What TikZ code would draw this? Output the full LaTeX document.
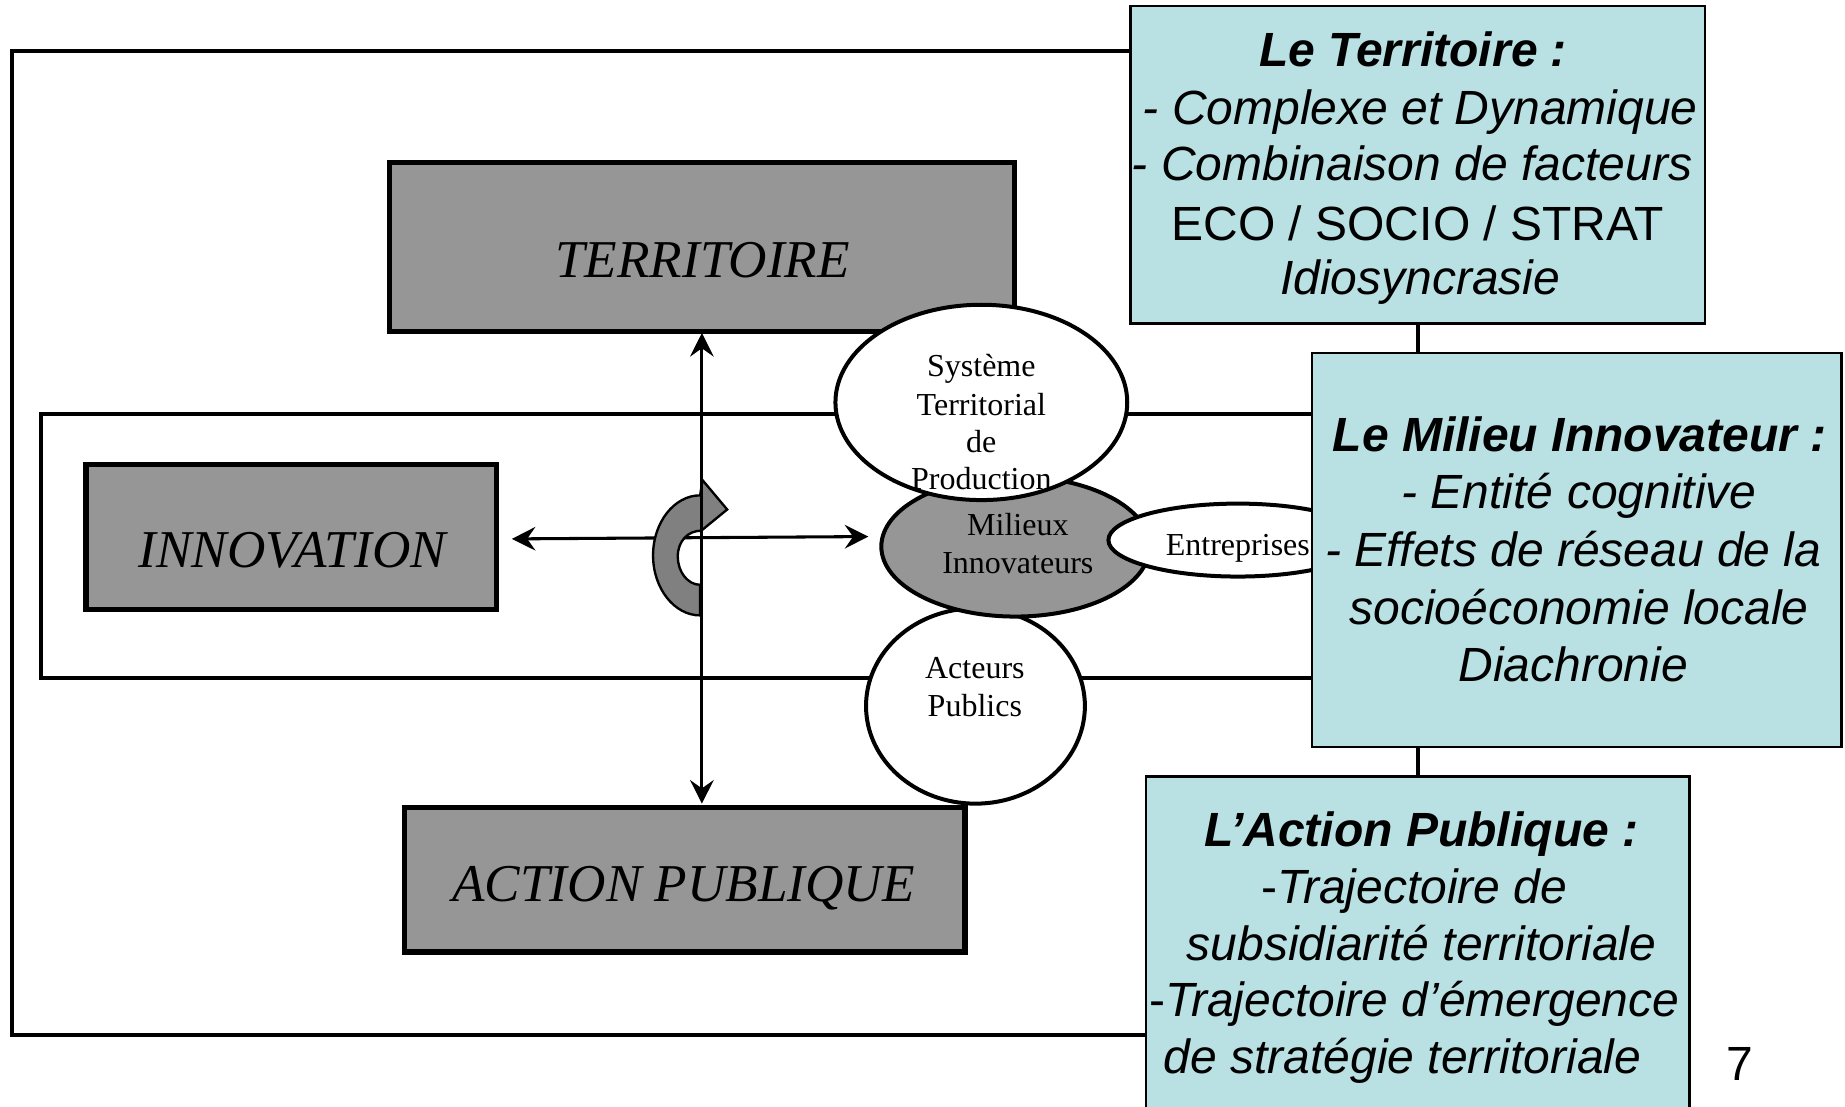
\documentclass[tikz,border=0pt]{standalone}
\usepackage{fontspec}
\setmainfont{Liberation Serif}
\newfontfamily\arialfam{Liberation Sans}
\usetikzlibrary{shapes.geometric,arrows.meta}
\definecolor{boxgray}{HTML}{969696}
\definecolor{arrgray}{HTML}{808080}
\definecolor{bluebox}{HTML}{B9E0E3}
\begin{document}
\begin{tikzpicture}[x=0.5pt,y=-0.5pt,
  frame/.style={line width=1.7pt},
  graybox/.style={draw,line width=2.25pt,fill=boxgray,inner sep=0pt,outer sep=0pt,anchor=north west},
  bluecard/.style={draw,line width=1.1pt,fill=bluebox,inner sep=0pt,outer sep=0pt,anchor=north west},
  oval/.style={ellipse,draw,line width=1.7pt,fill=white,inner sep=0pt,outer sep=0pt},
  bigser/.style={inner sep=0pt,anchor=base,font=\fontsize{22.6}{27}\selectfont\itshape},
  smallser/.style={inner sep=0pt,anchor=base,font=\fontsize{13.6}{16}\selectfont},
  sanstxt/.style={inner sep=0pt,anchor=base,font=\arialfam\fontsize{20.4}{24}\selectfont},
  link/.style={line width=1.3pt,{Stealth[length=10pt,width=10pt,inset=3.5pt]}-{Stealth[length=10pt,width=10pt,inset=3.5pt]}}
]
\useasboundingbox (0,0) rectangle (1568,940);

% frames
\draw[frame] (10,43) rectangle (1205,880);
\draw[frame] (35,352) rectangle (1300,576);

% gray boxes
\node[graybox,minimum width=265.5pt,minimum height=72pt] (terr) at (331,138) {};
\node[graybox,minimum width=174.5pt,minimum height=61.5pt] (innov) at (73,395) {};
\node[graybox,minimum width=238pt,minimum height=61.5pt] (act) at (344,686) {};
\node[bigser] (terrT) at (597,236) {TERRITOIRE};
\node[bigser] (innovT) at (248.5,482) {INNOVATION};
\node[bigser] (actT) at (581,766) {ACTION PUBLIQUE};

% ellipses
\node[oval,minimum width=93pt,minimum height=83pt] (acp) at (829,600) {};
\node[oval,fill=boxgray,minimum width=114pt,minimum height=59.5pt] (mil) at (863,464.5) {};
\node[oval,minimum width=124pt,minimum height=83pt] (sys) at (834,342) {};
\node[oval,minimum width=110pt,minimum height=31pt] (ent) at (1052,459) {};

\node[smallser] (sys1) at (834,320) {Système};
\node[smallser] (sys2) at (834,352.7) {Territorial};
\node[smallser] (sys3) at (834,384.7) {de};
\node[smallser] (sys4) at (834,416.4) {Production};
\node[smallser] (mil1) at (865,454.7) {Milieux};
\node[smallser] (mil2) at (865,487.8) {Innovateurs};
\node[smallser] (entT) at (1052,471.7) {Entreprises};
\node[smallser] (acp1) at (828.5,577) {Acteurs};
\node[smallser] (acp2) at (828.5,609) {Publics};

% horizontal arrow
\draw[link] ([xshift=6.5pt,yshift=-0.75pt]innov.east) -- ([xshift=-5.5pt,yshift=4.25pt]mil.west);

% curved arrow
\draw[fill=arrgray,line width=1pt,line join=miter]
  (595,523) .. controls (573,523) and (555,500) .. (555,472)
  .. controls (555,444) and (573,421) .. (595,421)
  -- (597,408) -- (618,433) -- (596,451)
  .. controls (584.5,451) and (576,460) .. (576,473)
  .. controls (576,486) and (584.5,497) .. (595,497) -- cycle;

% vertical arrow
\draw[link,shorten <=0.5pt,shorten >=1.5pt] (terr.south) -- (terr.south |- act.north);

% blue cards
\node[bluecard,minimum width=244pt,minimum height=135pt] (b1) at (961,5) {};
\node[bluecard,minimum width=225pt,minimum height=167.5pt] (b2) at (1115,300) {};
\node[bluecard,minimum width=231pt,minimum height=150pt] (b3) at (974,660) {};

\node[sanstxt] (b1a) at (1201,56.7) {\bfseries\itshape Le Territoire :};
\node[sanstxt] (b1b) at (1207,105.4) {\itshape - Complexe et Dynamique};
\node[sanstxt] (b1c) at (1200,153) {\itshape - Combinaison de facteurs};
\node[sanstxt] (b1d) at (1205,204) {ECO / SOCIO / STRAT};
\node[sanstxt] (b1e) at (1207,250.7) {\itshape Idiosyncrasie};

\node[sanstxt] (b2a) at (1342.5,383.8) {\bfseries\itshape Le Milieu Innovateur :};
\node[sanstxt] (b2b) at (1342,432) {\itshape - Entité cognitive};
\node[sanstxt] (b2c) at (1337,481.6) {\itshape - Effets de réseau de la};
\node[sanstxt] (b2d) at (1342,531) {\itshape socioéconomie locale};
\node[sanstxt] (b2e) at (1337,579.3) {\itshape Diachronie};

\node[sanstxt] (b3a) at (1208,719) {\bfseries\itshape L’Action Publique :};
\node[sanstxt] (b3b) at (1202,767.7) {-\itshape Trajectoire de};
\node[sanstxt] (b3c) at (1208,816) {\itshape subsidiarité territoriale};
\node[sanstxt] (b3d) at (1202,864) {-\itshape Trajectoire d’émergence};
\node[sanstxt] (b3e) at (1192,912) {\itshape de stratégie territoriale};

\node[sanstxt] (pnum) at (1479,918) {7};
\end{tikzpicture}
\end{document}
